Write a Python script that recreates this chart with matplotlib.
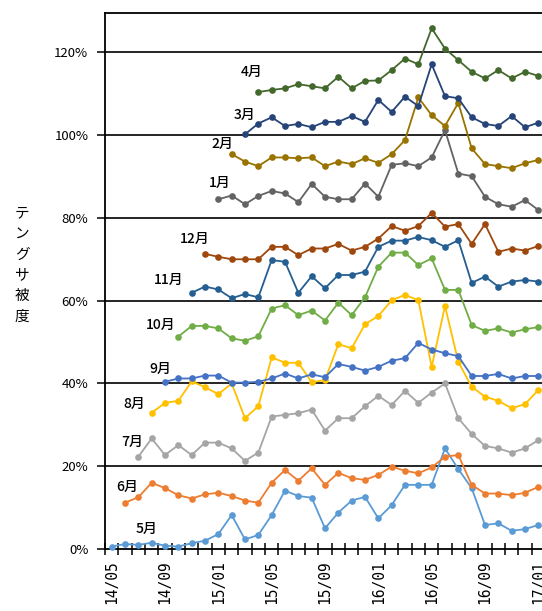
import matplotlib
matplotlib.use("Agg")
import matplotlib.pyplot as plt
from matplotlib.ticker import FixedLocator, FuncFormatter

plt.rcParams['font.family'] = ['Noto Sans CJK JP', 'DejaVu Sans']

# monthly categories 14/05 .. 17/01
categories = [f"{y:02d}/{m:02d}" for y, m in
              [(14, m) for m in range(5, 13)] + [(15, m) for m in range(1, 13)] +
              [(16, m) for m in range(1, 13)] + [(17, 1)]]

series_names = ["5月", "6月", "7月", "8月", "9月", "10月",
                "11月", "12月", "1月", "2月", "3月", "4月"]
# index of the first month each series has a value for
series_start = [0, 1, 2, 3, 4, 5, 6, 7, 8, 9, 10, 11]

# plotted coverage (%), one list per series
s_may = [0.6, 1.2, 1.0, 1.5, 0.8, 0.6, 1.4, 2.0, 3.6, 8.2, 2.3, 3.4, 8.2, 14.1, 12.8, 12.4,
         5.0, 8.8, 11.7, 12.6, 7.4, 10.6, 15.5, 15.5, 15.5, 24.3, 19.3, 14.7, 5.8, 6.2, 4.4, 4.8, 5.8]
s_jun = [11.2, 12.5, 16.0, 14.7, 13.0, 12.2, 13.2, 13.6, 12.8, 11.7, 11.2, 16.0, 19.1, 16.5, 19.5,
         15.5, 18.4, 17.1, 16.7, 17.9, 19.9, 18.9, 18.3, 19.7, 22.3, 22.7, 15.5, 13.4, 13.4, 13.0, 13.6, 15.0]
s_jul = [22.3, 26.7, 22.7, 25.1, 22.7, 25.7, 25.7, 24.3, 21.3, 23.3, 32.0, 32.4, 32.8, 33.7,
         28.6, 31.6, 31.6, 34.5, 37.0, 34.8, 38.2, 35.3, 37.8, 40.0, 31.6, 27.8, 24.9, 24.3, 23.3, 24.3, 26.3]
s_aug = [32.9, 35.3, 35.8, 40.5, 39.1, 37.4, 40.0, 31.6, 34.5, 46.3, 45.0, 45.0, 40.3,
         40.8, 49.5, 48.5, 54.3, 56.3, 60.1, 61.4, 60.1, 44.0, 58.7, 45.2, 39.2, 36.8, 35.8, 34.0, 35.0, 38.4]
s_sep = [40.4, 41.2, 41.2, 41.9, 41.9, 40.2, 40.2, 40.4, 41.2, 42.4, 41.2, 42.2,
         41.5, 44.7, 44.0, 43.1, 44.0, 45.5, 46.1, 49.8, 48.2, 47.3, 46.6, 41.8, 41.8, 42.3, 41.2, 41.8, 41.8]
s_oct = [51.3, 53.9, 53.9, 53.3, 50.9, 50.3, 51.4, 58.1, 58.9, 56.5, 57.6,
         55.2, 59.5, 56.5, 60.8, 68.2, 71.6, 71.6, 68.6, 70.2, 62.6, 62.6, 54.1, 52.7, 53.3, 52.3, 53.1, 53.6]
s_nov = [61.9, 63.4, 62.7, 60.6, 61.6, 60.8, 69.8, 69.4, 61.9, 65.9,
         63.0, 66.2, 66.2, 67.0, 73.0, 74.5, 74.5, 75.4, 74.6, 73.0, 74.6, 64.3, 65.8, 63.4, 64.6, 65.0, 64.6]
s_dec = [71.3, 70.6, 70.0, 70.0, 70.0, 73.0, 73.0, 71.0, 72.6,
         72.6, 73.7, 72.1, 73.0, 75.0, 78.0, 76.9, 78.0, 81.2, 77.9, 78.5, 73.7, 78.5, 71.8, 72.6, 72.1, 73.2]
s_jan = [84.5, 85.4, 83.3, 85.3, 86.5, 85.9, 83.8, 88.2,
         85.1, 84.5, 84.5, 88.3, 85.1, 92.8, 93.2, 92.5, 94.6, 101.2, 90.7, 90.1, 85.1, 83.3, 82.7, 84.3, 81.9]
s_feb = [95.4, 93.6, 92.5, 94.6, 94.6, 94.4, 94.6,
         92.5, 93.6, 93.0, 94.4, 93.3, 95.4, 98.8, 109.1, 104.8, 102.2, 107.8, 96.8, 93.0, 92.5, 92.0, 93.2, 94.0]
s_mar = [100.2, 102.8, 104.3, 102.2, 102.7, 101.9,
         103.2, 103.2, 104.6, 103.2, 108.5, 105.6, 109.3, 107.0, 117.1, 109.4, 108.9, 104.3, 102.7, 102.2, 104.6, 101.9, 103.0]
s_apr = [110.4, 110.9, 111.3, 112.3, 111.8,
         111.3, 114.1, 111.3, 113.1, 113.2, 115.7, 118.5, 117.1, 125.8, 120.9, 118.1, 115.3, 113.7, 115.7, 113.7, 115.3, 114.3]

series_values = [s_may, s_jun, s_jul, s_aug, s_sep, s_oct,
                 s_nov, s_dec, s_jan, s_feb, s_mar, s_apr]

colors = ['#5B9BD5', '#ED7D31', '#A5A5A5', '#FFC000', '#4472C4', '#70AD47',
          '#255E91', '#9E480E', '#636363', '#997300', '#264478', '#43682B']

# where each series name is written (category index, %)
label_pos = [(2.64, 4.8), (1.14, 14.9), (1.52, 25.9), (1.71, 35.0), (3.64, 43.6), (3.71, 54.1),
             (4.26, 65.1), (6.26, 74.8), (8.14, 88.5), (8.34, 97.8), (9.94, 104.8), (10.52, 115.3)]

fig = plt.figure(figsize=(5.42, 6.11), dpi=100)
ax = fig.add_axes([105 / 542, 62 / 611, 440 / 542, 536 / 611])

for name, start, vals, col, (lx, ly) in zip(series_names, series_start, series_values,
                                             colors, label_pos):
    xs = list(range(start, start + len(vals)))
    ax.plot(xs, vals, color=col, lw=1.3, marker='o', markersize=4.8,
            markeredgewidth=0, zorder=3, clip_on=False)
    ax.text(lx, ly, name, ha='center', va='center', fontsize=10, color='black',
            fontweight='medium')

ax.set_xlim(-0.5, len(categories) - 0.5)
ax.set_ylim(0, 129.5)

# gridlines
for g in [20, 40, 60, 80, 100, 120]:
    ax.axhline(g, color='black', lw=1.2, zorder=1)

ax.set_yticks([0, 20, 40, 60, 80, 100, 120])
ax.yaxis.set_major_formatter(FuncFormatter(lambda v, p: f"{v:.0f}%"))
ax.tick_params(axis='y', direction='out', length=6, width=1.1, labelsize=9.5, pad=6)

ax.set_xticks(range(0, len(categories), 4))
ax.set_xticklabels(categories[::4], rotation=90, fontsize=10.5,
                   family=['DejaVu Sans Mono'])
ax.xaxis.set_minor_locator(FixedLocator([i - 0.5 for i in range(len(categories) + 1)]))
ax.tick_params(axis='x', which='major', length=0, pad=8)
ax.tick_params(axis='x', which='minor', direction='inout', length=8, width=1.1)

for side in ['left', 'bottom', 'top']:
    ax.spines[side].set_linewidth(1.3)
    ax.spines[side].set_color('black')
ax.spines['right'].set_visible(False)

fig.text(22 / 542, 1 - 265 / 611, "テ\nン\nグ\nサ\n被\n度", ha='center', va='center',
         fontsize=10.5, linespacing=1.6)

fig.savefig("out.png", dpi=100)
